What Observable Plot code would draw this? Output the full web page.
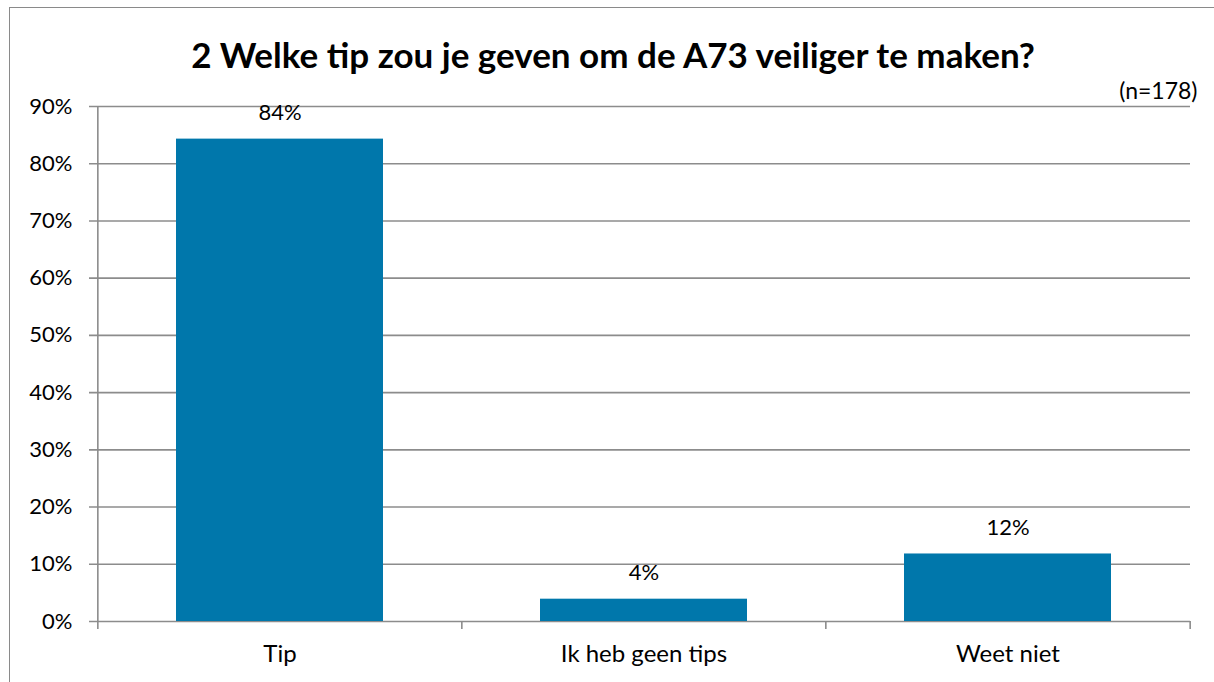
<!DOCTYPE html>
<html>
<head>
<meta charset="utf-8">
<script src="https://cdn.jsdelivr.net/npm/d3@7"></script>
<script src="https://cdn.jsdelivr.net/npm/@observablehq/plot@0.6"></script>
<style>
  html, body { margin: 0; padding: 0; background: #fff; }
  #wrap { position: relative; width: 1214px; height: 682px; overflow: hidden; }
  #border { position: absolute; left: 9px; top: 7px; right: -10px; bottom: -10px;
            border-left: 1.5px solid #8a8a8a; border-top: 1.5px solid #8a8a8a; pointer-events: none; }
  #chart svg { display: block; }
</style>
</head>
<body>
<div id="wrap"><div id="chart"></div><div id="border"></div></div>
<script>
const categories = ["Tip", "Ik heb geen tips", "Weet niet"];
const values = [0.843, 0.039, 0.118];
const yTicks = [0, 0.1, 0.2, 0.3, 0.4, 0.5, 0.6, 0.7, 0.8, 0.9];
const titleText = "2 Welke tip zou je geven om de A73 veiliger te maken?";
const nText = "(n=178)";

const data = categories.map((c, i) => ({category: c, value: values[i]}));

const W = 1214, H = 682;
const mL = 97, mR = 24, mT = 106, mB = 61;
const step = (W - mL - mR) / categories.length;
const grid = "#8c8c8c";
const font = "Lato, 'Open Sans', sans-serif";
const pct = d3.format(".0%");

const chart = Plot.plot({
  width: W, height: H,
  marginLeft: mL, marginRight: mR, marginTop: mT, marginBottom: mB,
  style: {fontFamily: font, fontSize: "22px", color: "#000", background: "#fff"},
  x: {domain: categories, paddingInner: 0.43, paddingOuter: 0.215, align: 0.5},
  y: {domain: [0, 0.9]},
  marks: [
    Plot.ruleY(yTicks, {y: d => d, stroke: grid, strokeWidth: 1.6, insetLeft: -8}),
    Plot.barY(data, {x: "category", y: "value", fill: "#0077ab"}),
    Plot.ruleX([categories[0]], {x: d => d, y1: 0.9, y2: 0, dx: -step / 2, stroke: grid, strokeWidth: 1.6, insetBottom: -8}),
    Plot.ruleX(categories.slice(1), {x: d => d, y1: 0, y2: 0, dx: -step / 2, stroke: grid, strokeWidth: 1.6, insetBottom: -8}),
    Plot.ruleX([categories[categories.length - 1]], {x: d => d, y1: 0, y2: 0, dx: step / 2, stroke: grid, strokeWidth: 1.6, insetBottom: -8}),
    Plot.axisY(yTicks, {tickSize: 0, tickPadding: 25, tickFormat: pct, fontSize: 22, label: null}),
    Plot.axisX({tickSize: 0, tickPadding: 23, fontSize: 24, label: null}),
    Plot.text(data, {x: "category", y: "value", text: d => pct(d.value), dy: -26, fontSize: 22, fill: "#000"}),
    Plot.text([titleText], {frameAnchor: "top", text: d => d, dx: -31, dy: -63, fontSize: 35, fontWeight: "bold", fill: "#000"}),
    Plot.text([nText], {frameAnchor: "top-right", text: d => d, dx: 7, dy: -24, textAnchor: "end", fontSize: 23, fill: "#000"})
  ]
});
document.getElementById("chart").appendChild(chart);
</script>
</body>
</html>
